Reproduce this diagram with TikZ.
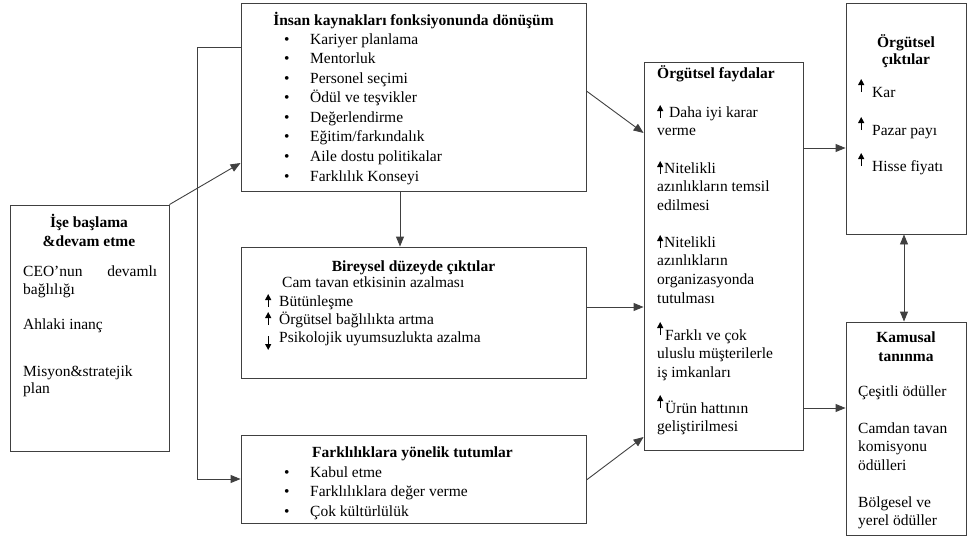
\documentclass[tikz,border=0pt]{standalone}
\usepackage{fontspec}
\setmainfont{Liberation Serif}
\usetikzlibrary{arrows.meta, positioning}

% small arrows used inside the texts
\newcommand{\upa}{\tikz[baseline=0pt]\draw[-{Triangle[length=6pt,width=6pt]}, line width=1.1pt] (0pt,-1pt) -- (0pt,12pt);}
\newcommand{\upr}{\tikz[baseline=0pt]\draw[-{Triangle[length=6pt,width=6pt]}, line width=1.1pt] (0pt,5pt) -- (0pt,18pt);}
\newcommand{\dna}{\tikz[baseline=0pt]\draw[-{Triangle[length=6pt,width=6pt]}, line width=1.1pt] (0pt,6pt) -- (0pt,-8pt);}
\newcommand{\bul}{\makebox[26pt][l]{\textbullet}}

\begin{document}
\begin{tikzpicture}
        [x=1pt, y=-1pt,
        font=\fontsize{15.5}{19}\selectfont,
        box/.style={draw=black!75, line width=0.9pt, inner sep=0pt},
        hdr/.style={anchor=base, inner sep=0pt, align=center,
          font=\fontsize{15.5}{19}\selectfont\bfseries},
        lbl/.style={anchor=base west, inner sep=0pt, align=left},
        link/.style={draw=black!75, line width=0.9pt,
          -{Triangle[length=10pt,width=8pt]}}]

    \useasboundingbox (0,0) rectangle (967,538);

    % boxes
    \node[box, minimum width=159, minimum height=246] (start) at (89.5,328) {};
    \node[box, minimum width=345, minimum height=188] (ik) at (413.5,97) {};
    \node[box, minimum width=345, minimum height=131] (bc) at (413.5,312.5) {};
    \node[box, minimum width=345, minimum height=88] (ft) at (413.5,479) {};
    \node[box, minimum width=159, minimum height=388] (fay) at (723.5,256) {};
    \node[box, minimum width=120, minimum height=231] (cikti) at (906,118.5) {};
    \node[box, minimum width=120, minimum height=213] (kamu) at (906,428.5) {};

    % left box (multi-line texts sit on their last baseline)
    \node[hdr] (starthdr) at (89,246) {İşe başlama\\\&devam etme};
    \node[lbl, font=\fontsize{15.5}{18}\selectfont] (ceo) at (23,294)
      {\makebox[134pt][s]{CEO’nun\hfill devamlı}\\bağlılığı};
    \node[lbl] (ahlak) at (23,329) {Ahlaki inanç};
    \node[lbl, font=\fontsize{15.5}{17.5}\selectfont] (misyon) at (23,393.5)
      {Misyon\&stratejik\\plan};

    % human resources box
    \node[hdr] (ikhdr) at (413.5,25) {İnsan kaynakları fonksiyonunda dönüşüm};
    \node[lbl, font=\fontsize{15.5}{19.57}\selectfont] (iklist) at (284,181)
      {\bul Kariyer planlama\\ \bul Mentorluk\\ \bul Personel seçimi\\
       \bul Ödül ve teşvikler\\ \bul Değerlendirme\\ \bul Eğitim/farkındalık\\
       \bul Aile dostu politikalar\\ \bul Farklılık Konseyi};

    % individual outcomes box
    \node[hdr] (bchdr) at (413.5,271) {Bireysel düzeyde çıktılar};
    \node[lbl] (cam) at (282,287) {Cam tavan etkisinin azalması};
    \node[lbl, font=\fontsize{15.5}{18}\selectfont] (bclist) at (265,342)
      {\upa\hspace{8pt}Bütünleşme\\ \upa\hspace{8pt}Örgütsel bağlılıkta artma\\
       \dna\hspace{8pt}Psikolojik uyumsuzlukta azalma};

    % attitudes box
    \node[hdr, anchor=base west] (fthdr) at (312,457) {Farklılıklara yönelik tutumlar};
    \node[lbl, font=\fontsize{15.5}{19.5}\selectfont] (ftlist) at (284,516)
      {\bul Kabul etme\\ \bul Farklılıklara değer verme\\ \bul Çok kültürlülük};

    % organisational benefits box
    \node[hdr, anchor=base west] (fayhdr) at (657,78) {Örgütsel faydalar};
    \node[lbl, font=\fontsize{15.5}{18.7}\selectfont] (f1) at (657,135.7)
      {\upa\hspace{6pt}Daha iyi karar\\verme};
    \node[lbl, font=\fontsize{15.5}{18.7}\selectfont] (f2) at (657,210.4)
      {\upa\hspace{1pt}Nitelikli\\azınlıkların temsil\\edilmesi};
    \node[lbl, font=\fontsize{15.5}{18.7}\selectfont] (f3) at (657,303.1)
      {\upa\hspace{1pt}Nitelikli\\azınlıkların\\organizasyonda\\tutulması};
    \node[lbl, font=\fontsize{15.5}{18.7}\selectfont] (f4) at (657,377.4)
      {\upr\hspace{2pt}Farklı ve çok\\uluslu müşterilerle\\iş imkanları};
    \node[lbl, font=\fontsize{15.5}{18.7}\selectfont] (f5) at (657,431.7)
      {\upr\hspace{2pt}Ürün hattının\\geliştirilmesi};

    % organisational outcomes box
    \node[hdr, font=\fontsize{15.5}{17.5}\selectfont\bfseries] (ciktihdr) at (906,64.5)
      {Örgütsel\\çıktılar};
    \node[lbl] (kar) at (858,97) {\upr\hspace{8pt}Kar};
    \node[lbl] (pazar) at (858,135) {\upr\hspace{8pt}Pazar payı};
    \node[lbl] (hisse) at (858,171) {\upr\hspace{8pt}Hisse fiyatı};

    % public recognition box
    \node[hdr] (kamuhdr) at (906,361) {Kamusal\\tanınma};
    \node[lbl] (odul) at (858,396) {Çeşitli ödüller};
    \node[lbl, font=\fontsize{15.5}{18.5}\selectfont] (camdan) at (858,470)
      {Camdan tavan\\komisyonu\\ödülleri};
    \node[lbl, font=\fontsize{15.5}{18.5}\selectfont] (bolge) at (858,525.5)
      {Bölgesel ve\\yerel ödüller};

    % connectors
    \draw[link] (start.north east) -- ([yshift=-66pt]ik.west);
    \draw[link] ([yshift=50pt]ik.west) -- ++(-43,0) |- (ft.west);
    \draw[link] ([xshift=-13.5pt]ik.south) -- ([xshift=-13.5pt]bc.north);
    \draw[link] ([yshift=6pt]ik.east) -- ([yshift=123pt]fay.west);
    \draw[link] ([yshift=5.5pt]bc.east) -- ([yshift=5.5pt]bc.east -| fay.west);
    \draw[link] ([yshift=-1pt]ft.east) -- ([yshift=-181pt]fay.west);
    \draw[link] ([yshift=-29.5pt]cikti.west -| fay.east) -- ([yshift=-29.5pt]cikti.west);
    \draw[link] ([yshift=20.5pt]kamu.west -| fay.east) -- ([yshift=20.5pt]kamu.west);
    \draw[link, {Triangle[length=10pt,width=8pt]}-{Triangle[length=10pt,width=8pt]}]
      ([xshift=-2pt]cikti.south) -- ([xshift=-2pt]kamu.north);
\end{tikzpicture}
\end{document}
